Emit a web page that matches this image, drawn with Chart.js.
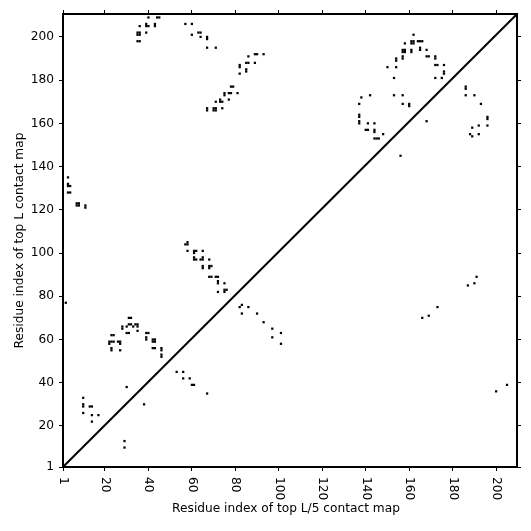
<!DOCTYPE html>
<html>
<head>
<meta charset="utf-8">
<script src="https://cdn.jsdelivr.net/npm/chart.js@4/dist/chart.umd.min.js"></script>
<style>
	html, body { margin: 0; padding: 0; background: #fff; }
	canvas { display: block; }
</style>
</head>
<body>
<canvas id="contact-map" width="531" height="531"></canvas>
<script>
// axis ranges and tick labels
const xRange = [0.7, 209.6];
const yRange = [1, 210.6];
const tickValues = [1, 20, 40, 60, 80, 100, 120, 140, 160, 180, 200];

const xTitle = "Residue index of top L/5 contact map";
const yTitle = "Residue index of top L contact map";

// contacts above the diagonal [i, j]
const upperContacts = [
	[40, 209], [44, 209], [45, 209],
	[36, 205], [39, 206], [39, 205], [40, 205], [43, 205], [43, 206],
	[57, 206], [60, 206],
	[35, 202], [36, 202], [36, 201], [35, 201], [39, 202],
	[35, 198], [36, 198],
	[60, 201], [63, 202], [64, 202], [64, 200], [67, 199], [67, 200], [67, 195],
	[71, 195], [86, 191], [89, 192], [90, 192], [93, 192],
	[82, 187], [82, 186], [85, 188], [86, 188], [89, 188],
	[82, 183], [85, 184], [85, 185],
	[78, 177], [79, 177], [75, 173], [75, 174], [77, 174], [78, 174], [81, 174],
	[73, 170], [73, 171], [74, 170], [71, 170], [77, 171],
	[67, 167], [67, 166], [70, 167], [71, 167], [70, 166], [71, 166], [74, 167],
	[162, 201], [158, 197], [161, 198], [162, 198], [161, 197], [162, 197],
	[164, 198], [165, 198], [166, 198],
	[157, 194], [158, 194], [157, 193], [158, 193], [161, 194], [161, 193],
	[165, 194], [165, 195], [168, 194],
	[168, 191], [169, 191], [157, 191], [157, 190], [154, 190], [154, 189],
	[154, 186], [150, 186],
	[172, 191], [172, 190], [172, 187], [173, 187], [176, 187],
	[176, 183], [176, 184], [172, 181], [175, 181], [153, 181],
	[138, 172], [142, 173], [137, 169], [153, 173], [157, 173],
	[157, 169], [160, 169], [160, 168],
	[137, 164], [137, 163], [137, 161], [137, 160], [141, 160], [144, 160],
	[140, 157], [141, 157], [144, 157], [144, 156], [148, 155],
	[144, 153], [145, 153], [146, 153], [168, 161],
	[3, 135], [3, 132], [3, 131], [4, 131], [3, 128], [4, 128],
	[7, 123], [8, 123], [7, 122], [8, 122], [11, 122], [11, 121],
	[58, 105], [57, 104], [58, 104], [58, 101], [61, 101], [62, 101], [61, 100], [65, 101],
	[61, 98], [62, 97], [61, 97], [64, 97], [65, 98], [65, 97], [65, 94], [65, 93],
	[68, 97], [68, 94], [69, 94], [68, 93],
	[68, 89], [69, 89], [71, 89], [72, 89], [72, 87], [72, 86], [75, 86],
	[72, 82], [75, 83], [76, 83], [75, 82],
	[2, 77], [31, 70], [32, 70], [28, 66], [28, 65],
	[30, 66], [31, 67], [32, 67], [33, 66], [34, 67], [35, 67], [35, 66], [35, 64],
	[30, 63], [31, 63], [23, 62], [24, 62],
	[22, 59], [23, 59], [24, 59], [22, 58], [26, 59], [27, 59], [27, 58],
	[23, 56], [23, 55], [27, 55],
	[39, 63], [40, 63], [39, 61], [39, 60],
	[42, 60], [43, 60], [42, 59], [43, 59], [42, 56], [43, 56],
	[46, 56], [46, 55], [46, 53], [46, 52],
	[30, 38],
	[10, 33], [10, 30], [10, 29], [10, 26], [13, 29], [14, 29], [14, 25], [14, 22], [17, 25],
];

// contacts below the diagonal [i, j]
const lowerContacts = [
	[53, 45], [56, 45], [56, 42], [59, 42], [60, 39], [61, 39], [67, 35],
	[38, 30], [29, 13], [29, 10],
	[83, 76], [82, 75], [86, 75], [83, 72], [90, 72], [93, 68],
	[97, 65], [97, 61], [101, 63], [101, 58],
	[186, 177], [186, 176], [186, 173], [190, 173], [193, 169],
	[196, 163], [196, 162], [196, 159], [192, 159], [189, 158],
	[188, 155], [189, 154], [192, 155], [156, 145],
	[187, 85], [190, 86], [191, 89],
	[173, 75], [169, 71], [166, 70],
	[200, 36], [205, 39],
];

const toPoints = (list) => list.map(([i, j]) => ({ x: i, y: j }));

// 回転した目盛ラベルと軸タイトルを描く
const axisTextPlugin = {
	id: "axisText",
	afterDraw(chart) {
		const { ctx, chartArea, scales } = chart;
		ctx.save();
		ctx.fillStyle = "#000";
		ctx.font = '12.2px "DejaVu Sans"';

		// x tick labels, turned clockwise
		tickValues.forEach((v) => {
			const px = scales.x.getPixelForValue(v);
			ctx.save();
			ctx.translate(px, chartArea.bottom + 10);
			ctx.rotate(Math.PI / 2);
			ctx.textAlign = "left";
			ctx.textBaseline = "middle";
			ctx.fillText(String(v), 0, 0);
			ctx.restore();
		});

		// y tick labels
		ctx.textAlign = "right";
		ctx.textBaseline = "middle";
		tickValues.forEach((v) => {
			const py = scales.y.getPixelForValue(v);
			ctx.fillText(String(v), chartArea.left - 9, py);
		});

		// titles
		ctx.textAlign = "center";
		ctx.fillText(xTitle, (chartArea.left + chartArea.right) / 2 - 4, 509);
		ctx.save();
		ctx.translate(20, (chartArea.top + chartArea.bottom) / 2);
		ctx.rotate(-Math.PI / 2);
		ctx.fillText(yTitle, 0, 0);
		ctx.restore();

		ctx.restore();
	},
};

function makeAxis(position, range) {
	return {
		type: "linear",
		position: position,
		min: range[0],
		max: range[1],
		afterBuildTicks: (axis) => {
			axis.ticks = tickValues.map((v) => ({ value: v }));
		},
		ticks: { display: false },
		grid: {
			drawOnChartArea: false,
			drawTicks: true,
			tickLength: 4,
			tickWidth: 1,
			tickColor: "#000",
		},
		border: { display: true, color: "#000", width: 2 },
	};
}

const contactStyle = {
	type: "scatter",
	pointStyle: "rect",
	pointRadius: 1.6,
	pointHoverRadius: 1.6,
	pointBorderWidth: 0,
	backgroundColor: "#000",
	borderColor: "#000",
};

new Chart(document.getElementById("contact-map").getContext("2d"), {
	type: "scatter",
	data: {
		datasets: [
			{
				// corner to corner diagonal
				type: "line",
				data: [
					{ x: xRange[0], y: yRange[0] },
					{ x: xRange[1], y: yRange[1] },
				],
				borderColor: "#000",
				borderWidth: 2,
				pointRadius: 0,
				fill: false,
			},
			{ ...contactStyle, data: toPoints(upperContacts) },
			{ ...contactStyle, data: toPoints(lowerContacts) },
		],
	},
	options: {
		responsive: false,
		animation: false,
		devicePixelRatio: 1,
		layout: { padding: { left: 59, right: 10, top: 10, bottom: 60 } },
		plugins: {
			legend: { display: false },
			tooltip: { enabled: false },
		},
		scales: {
			x: makeAxis("bottom", xRange),
			x2: makeAxis("top", xRange),
			y: makeAxis("left", yRange),
			y2: makeAxis("right", yRange),
		},
	},
	plugins: [axisTextPlugin],
});
</script>
</body>
</html>
